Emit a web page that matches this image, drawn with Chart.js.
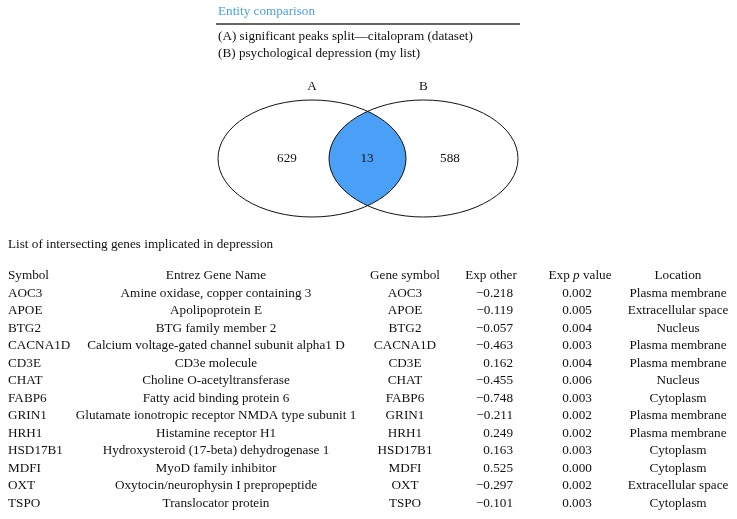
<!DOCTYPE html>
<html>
<head>
<meta charset="utf-8">
<script src="https://cdn.jsdelivr.net/npm/chart.js@4"></script>
<style>
  body { margin: 0; background: #fff; }
  canvas { display: block; }
</style>
</head>
<body>
<canvas id="venn" width="737" height="519"></canvas>
<script>
// venn data
var setLabels = ["A", "B"];
var setNames = ["significant peaks split\u2014citalopram (dataset)", "psychological depression (my list)"];
var regionCounts = [629, 13, 588]; // only A, A and B, only B

// table data
var tableHeaders = ["Symbol", "Entrez Gene Name", "Gene symbol", "Exp other", "Exp p value", "Location"];
var symbols = ["AOC3", "APOE", "BTG2", "CACNA1D", "CD3E", "CHAT", "FABP6", "GRIN1", "HRH1", "HSD17B1", "MDFI", "OXT", "TSPO"];
var geneNames = [
  "Amine oxidase, copper containing 3",
  "Apolipoprotein E",
  "BTG family member 2",
  "Calcium voltage-gated channel subunit alpha1 D",
  "CD3e molecule",
  "Choline O-acetyltransferase",
  "Fatty acid binding protein 6",
  "Glutamate ionotropic receptor NMDA type subunit 1",
  "Histamine receptor H1",
  "Hydroxysteroid (17-beta) dehydrogenase 1",
  "MyoD family inhibitor",
  "Oxytocin/neurophysin I prepropeptide",
  "Translocator protein"
];
var geneSymbols = ["AOC3", "APOE", "BTG2", "CACNA1D", "CD3E", "CHAT", "FABP6", "GRIN1", "HRH1", "HSD17B1", "MDFI", "OXT", "TSPO"];
var expOther = [-0.218, -0.119, -0.057, -0.463, 0.162, -0.455, -0.748, -0.211, 0.249, 0.163, 0.525, -0.297, -0.101];
var expP = [0.002, 0.005, 0.004, 0.003, 0.004, 0.006, 0.003, 0.002, 0.002, 0.003, 0.000, 0.002, 0.003];
var locations = ["Plasma membrane", "Extracellular space", "Nucleus", "Plasma membrane", "Plasma membrane", "Nucleus",
  "Cytoplasm", "Plasma membrane", "Plasma membrane", "Cytoplasm", "Cytoplasm", "Extracellular space", "Cytoplasm"];

var FONT = '"Liberation Serif", "Times New Roman", serif';
var FS = "13.2px ";
var BLUE = "#4a9ff7";

function fmt(v) {
  var s = Math.abs(v).toFixed(3);
  return v < 0 ? "\u2212" + s : s;
}

// ellipses in chart units (x: 0..737, y: 0..519 top-down)
var ellipses = [
  { cx: 312, cy: 158.5, rx: 94, ry: 58.5 },
  { cx: 423.5, cy: 158.5, rx: 94.5, ry: 58.5 }
];
var regionX = [287, 367, 450];

var vennPlugin = {
  id: "vennTable",
  afterDatasetsDraw: function (chart) {
    var c = chart.ctx, xs = chart.scales.x, ys = chart.scales.y;
    var px = function (v) { return xs.getPixelForValue(v); };
    var py = function (v) { return ys.getPixelForValue(v); };
    c.save();
    c.textBaseline = "middle";

    // header block
    c.font = FS + FONT;
    c.fillStyle = "#4a9fdf";
    c.textAlign = "left";
    c.fillText("Entity comparison", px(218), py(12));
    c.strokeStyle = "#333";
    c.lineWidth = 1.3;
    c.beginPath();
    c.moveTo(px(216), py(24));
    c.lineTo(px(520), py(24));
    c.stroke();
    c.fillStyle = "#111";
    c.fillText("(" + setLabels[0] + ") " + setNames[0], px(218), py(37));
    c.fillText("(" + setLabels[1] + ") " + setNames[1], px(218), py(54));

    // ellipses
    var path = function (e) {
      c.beginPath();
      c.ellipse(px(e.cx), py(e.cy), Math.abs(px(e.cx + e.rx) - px(e.cx)), Math.abs(py(e.cy + e.ry) - py(e.cy)), 0, 0, Math.PI * 2);
    };
    c.save();
    path(ellipses[0]);
    c.clip();
    path(ellipses[1]);
    c.fillStyle = BLUE;
    c.fill();
    c.restore();
    c.strokeStyle = "#111";
    c.lineWidth = 1;
    path(ellipses[0]); c.stroke();
    path(ellipses[1]); c.stroke();

    c.textAlign = "center";
    c.fillStyle = "#111";
    c.fillText(setLabels[0], px(ellipses[0].cx), py(87));
    c.fillText(setLabels[1], px(ellipses[1].cx), py(87));

    // counts at the dataset points
    var meta = chart.getDatasetMeta(0);
    meta.data.forEach(function (pt, i) {
      c.fillText(String(regionCounts[i]), pt.x, pt.y);
    });

    // table
    c.textAlign = "left";
    c.fillText("List of intersecting genes implicated in depression", px(8), py(245));
    var headY = 276, rowH = 17.5, firstY = 293.5;
    var colX = [8, 216, 405, 491, 580, 678];
    c.textAlign = "left";
    c.fillText(tableHeaders[0], px(colX[0]), py(headY));
    c.textAlign = "center";
    c.fillText(tableHeaders[1], px(colX[1]), py(headY));
    c.fillText(tableHeaders[2], px(colX[2]), py(headY));
    c.fillText(tableHeaders[3], px(colX[3]), py(headY));
    // "Exp p value" with italic p
    var w1 = c.measureText("Exp ").width;
    c.font = "italic " + FS + FONT;
    var w2 = c.measureText("p").width;
    c.font = FS + FONT;
    var w3 = c.measureText(" value").width;
    var sx = px(colX[4]) - (w1 + w2 + w3) / 2;
    c.textAlign = "left";
    c.fillText("Exp ", sx, py(headY));
    c.font = "italic " + FS + FONT;
    c.fillText("p", sx + w1, py(headY));
    c.font = FS + FONT;
    c.fillText(" value", sx + w1 + w2, py(headY));
    c.textAlign = "center";
    c.fillText(tableHeaders[5], px(colX[5]), py(headY));

    for (var i = 0; i < symbols.length; i++) {
      var y = py(firstY + i * rowH);
      c.textAlign = "left";
      c.fillText(symbols[i], px(colX[0]), y);
      c.textAlign = "center";
      c.fillText(geneNames[i], px(colX[1]), y);
      c.fillText(geneSymbols[i], px(colX[2]), y);
      c.textAlign = "right";
      c.fillText(fmt(expOther[i]), px(513), y);
      c.textAlign = "center";
      c.fillText(expP[i].toFixed(3), px(577), y);
      c.fillText(locations[i], px(colX[5]), y);
    }
    c.restore();
  }
};

new Chart(document.getElementById("venn"), {
  type: "scatter",
  data: {
    datasets: [{
      label: "Region counts",
      data: regionCounts.map(function (v, i) { return { x: regionX[i], y: 158.5 }; }),
      pointRadius: 0,
      pointHoverRadius: 0
    }]
  },
  options: {
    responsive: false,
    devicePixelRatio: 1,
    animation: false,
    layout: { padding: 0 },
    plugins: { legend: { display: false }, tooltip: { enabled: false } },
    scales: {
      x: { type: "linear", min: 0, max: 737, display: false },
      y: { type: "linear", min: 0, max: 519, reverse: true, display: false }
    }
  },
  plugins: [vennPlugin]
});
</script>
</body>
</html>
